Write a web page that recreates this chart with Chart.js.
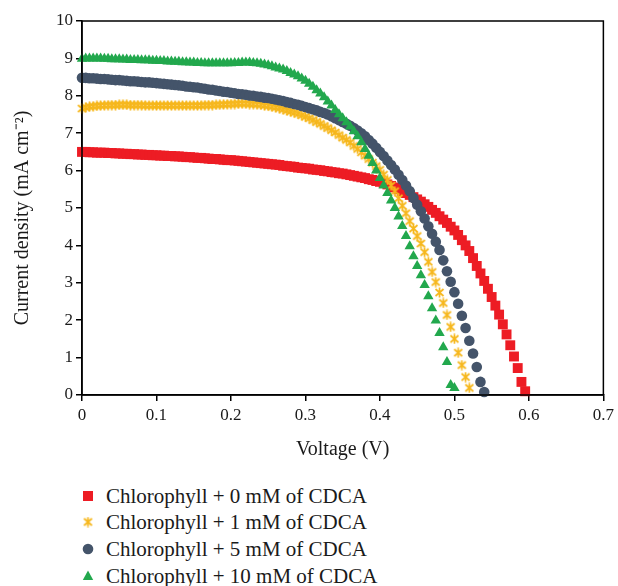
<!DOCTYPE html>
<html>
<head>
<meta charset="utf-8">
<script src="https://cdn.jsdelivr.net/npm/chart.js@4.4.1/dist/chart.umd.min.js"></script>
<style>
  body { margin: 0; background: #fff; }
  #wrap { position: relative; width: 618px; height: 586px; }
  #plot { position: absolute; left: 0; top: 0; width: 618px; height: 470px; }
  .leg { position: absolute; left: 0; font: 21px 'Liberation Serif', serif; color: #1a1a1a; white-space: nowrap; }
  .leg .mk { position: absolute; left: 81px; top: 0; width: 14px; height: 14px; }
  .leg span { position: absolute; left: 106px; top: -6px; line-height: 26px; }
</style>
</head>
<body>
<div id="wrap">
  <div id="plot"><canvas id="ivChart"></canvas></div>
  <div class="leg" style="top:489px"><canvas class="mk" width="14" height="14"></canvas><span>Chlorophyll + 0 mM of CDCA</span></div>
  <div class="leg" style="top:515px"><canvas class="mk" width="14" height="14"></canvas><span>Chlorophyll + 1 mM of CDCA</span></div>
  <div class="leg" style="top:542px"><canvas class="mk" width="14" height="14"></canvas><span>Chlorophyll + 5 mM of CDCA</span></div>
  <div class="leg" style="top:569px"><canvas class="mk" width="14" height="14"></canvas><span>Chlorophyll + 10 mM of CDCA</span></div>
</div>
<script>
// voltage steps (V)
const voltage = [
  0.000, 0.005, 0.010, 0.015, 0.020, 0.025, 0.030, 0.035, 0.040, 0.045,
  0.050, 0.055, 0.060, 0.065, 0.070, 0.075, 0.080, 0.085, 0.090, 0.095,
  0.100, 0.105, 0.110, 0.115, 0.120, 0.125, 0.130, 0.135, 0.140, 0.145,
  0.150, 0.155, 0.160, 0.165, 0.170, 0.175, 0.180, 0.185, 0.190, 0.195,
  0.200, 0.205, 0.210, 0.215, 0.220, 0.225, 0.230, 0.235, 0.240, 0.245,
  0.250, 0.255, 0.260, 0.265, 0.270, 0.275, 0.280, 0.285, 0.290, 0.295,
  0.300, 0.305, 0.310, 0.315, 0.320, 0.325, 0.330, 0.335, 0.340, 0.345,
  0.350, 0.355, 0.360, 0.365, 0.370, 0.375, 0.380, 0.385, 0.390, 0.395,
  0.400, 0.405, 0.410, 0.415, 0.420, 0.425, 0.430, 0.435, 0.440, 0.445,
  0.450, 0.455, 0.460, 0.465, 0.470, 0.475, 0.480, 0.485, 0.490, 0.495,
  0.500, 0.505, 0.510, 0.515, 0.520, 0.525, 0.530, 0.535, 0.540, 0.545,
  0.550, 0.555, 0.560, 0.565, 0.570, 0.575, 0.580, 0.585, 0.590, 0.595
];

// current density (mA cm-2), one value per voltage step
const cdca0 = [
  6.50, 6.50, 6.49, 6.49, 6.48, 6.48, 6.48, 6.47, 6.47, 6.46,
  6.46, 6.45, 6.45, 6.44, 6.44, 6.43, 6.43, 6.42, 6.42, 6.41,
  6.41, 6.40, 6.40, 6.39, 6.39, 6.38, 6.38, 6.37, 6.36, 6.36,
  6.35, 6.34, 6.34, 6.33, 6.32, 6.31, 6.31, 6.30, 6.29, 6.28,
  6.28, 6.27, 6.26, 6.25, 6.24, 6.23, 6.22, 6.21, 6.20, 6.19,
  6.18, 6.17, 6.16, 6.15, 6.13, 6.12, 6.11, 6.10, 6.08, 6.07,
  6.06, 6.05, 6.03, 6.02, 6.01, 5.99, 5.98, 5.96, 5.95, 5.93,
  5.92, 5.90, 5.88, 5.86, 5.84, 5.82, 5.80, 5.77, 5.75, 5.72,
  5.70, 5.67, 5.63, 5.59, 5.55, 5.50, 5.45, 5.40, 5.35, 5.29,
  5.23, 5.17, 5.10, 5.03, 4.95, 4.87, 4.78, 4.69, 4.60, 4.50,
  4.40, 4.28, 4.14, 4.00, 3.85, 3.66, 3.45, 3.25, 3.05, 2.84,
  2.62, 2.39, 2.15, 1.89, 1.62, 1.33, 1.03, 0.72, 0.35, 0.10
];
const cdca1 = [
  7.66, 7.69, 7.71, 7.72, 7.73, 7.74, 7.74, 7.75, 7.75, 7.75,
  7.76, 7.76, 7.76, 7.75, 7.75, 7.75, 7.75, 7.74, 7.74, 7.74,
  7.74, 7.74, 7.74, 7.74, 7.74, 7.74, 7.74, 7.74, 7.74, 7.74,
  7.74, 7.74, 7.74, 7.75, 7.75, 7.75, 7.76, 7.76, 7.77, 7.77,
  7.78, 7.78, 7.79, 7.79, 7.79, 7.78, 7.78, 7.77, 7.76, 7.74,
  7.73, 7.71, 7.69, 7.67, 7.64, 7.61, 7.58, 7.55, 7.52, 7.48,
  7.44, 7.40, 7.35, 7.30, 7.25, 7.19, 7.14, 7.08, 7.02, 6.95,
  6.88, 6.82, 6.75, 6.66, 6.58, 6.49, 6.40, 6.31, 6.21, 6.12,
  6.02, 5.89, 5.75, 5.60, 5.45, 5.26, 5.06, 4.86, 4.65, 4.45,
  4.25, 4.05, 3.82, 3.56, 3.29, 3.02, 2.74, 2.46, 2.14, 1.82,
  1.50, 1.13, 0.80, 0.48, 0.19
];
const cdca5 = [
  8.48, 8.48, 8.47, 8.47, 8.46, 8.45, 8.45, 8.44, 8.43, 8.42,
  8.42, 8.41, 8.40, 8.39, 8.39, 8.38, 8.37, 8.36, 8.36, 8.35,
  8.34, 8.33, 8.32, 8.31, 8.30, 8.29, 8.28, 8.27, 8.25, 8.24,
  8.23, 8.22, 8.20, 8.19, 8.17, 8.16, 8.14, 8.13, 8.11, 8.10,
  8.08, 8.07, 8.05, 8.04, 8.03, 8.01, 8.00, 7.98, 7.97, 7.95,
  7.94, 7.92, 7.90, 7.88, 7.86, 7.83, 7.81, 7.78, 7.76, 7.73,
  7.70, 7.67, 7.64, 7.61, 7.57, 7.54, 7.50, 7.45, 7.40, 7.35,
  7.30, 7.25, 7.20, 7.14, 7.07, 7.00, 6.92, 6.82, 6.72, 6.61,
  6.50, 6.39, 6.27, 6.15, 6.03, 5.89, 5.75, 5.60, 5.45, 5.27,
  5.09, 4.91, 4.72, 4.51, 4.31, 4.10, 3.88, 3.60, 3.31, 3.03,
  2.75, 2.44, 2.12, 1.79, 1.45, 1.11, 0.75, 0.35, 0.08
];
const cdca10 = [
  8.99, 9.00, 9.00, 9.00, 9.00, 9.00, 8.99, 8.99, 8.98, 8.98,
  8.98, 8.97, 8.97, 8.96, 8.96, 8.96, 8.95, 8.95, 8.95, 8.94,
  8.94, 8.93, 8.93, 8.92, 8.92, 8.91, 8.91, 8.90, 8.90, 8.89,
  8.89, 8.88, 8.88, 8.87, 8.87, 8.87, 8.87, 8.87, 8.87, 8.87,
  8.87, 8.88, 8.88, 8.89, 8.89, 8.89, 8.88, 8.87, 8.86, 8.84,
  8.82, 8.79, 8.76, 8.73, 8.70, 8.66, 8.61, 8.57, 8.52, 8.46,
  8.40, 8.32, 8.24, 8.15, 8.06, 7.96, 7.85, 7.74, 7.62, 7.51,
  7.40, 7.29, 7.18, 7.05, 6.92, 6.76, 6.58, 6.40, 6.20, 6.00,
  5.80, 5.60, 5.40, 5.20, 5.00, 4.77, 4.52, 4.25, 3.98, 3.71,
  3.45, 3.20, 2.94, 2.64, 2.32, 1.99, 1.66, 1.28, 0.88, 0.27,
  0.19
];

const xTickLabels = ['0', '0.1', '0.2', '0.3', '0.4', '0.5', '0.6', '0.7'];
const yTickLabels = ['0', '1', '2', '3', '4', '5', '6', '7', '8', '9', '10'];

const RED = '#ED1C24', GOLD = '#F6B71C', SLATE = '#44546A', GREEN = '#22A84D';

// Excel-style asterisk marker (x with a vertical bar)
function starMarker(color) {
  const c = document.createElement('canvas');
  c.width = 11; c.height = 11;
  const g = c.getContext('2d');
  g.strokeStyle = color;
  g.lineWidth = 1.7;
  g.beginPath();
  g.moveTo(1.5, 2); g.lineTo(9.5, 9);
  g.moveTo(9.5, 2); g.lineTo(1.5, 9);
  g.moveTo(5.5, 0.5); g.lineTo(5.5, 10.5);
  g.stroke();
  return c;
}
const star = starMarker(GOLD);

function pts(ys) {
  return ys.map((y, i) => ({ x: voltage[i], y: y }));
}

const frame = {
  id: 'frame',
  afterDraw(chart) {
    const { ctx, chartArea: a } = chart;
    ctx.save();
    ctx.strokeStyle = '#000';
    ctx.lineWidth = 1.5;
    ctx.strokeRect(a.left, a.top, a.right - a.left, a.bottom - a.top);
    ctx.restore();
  }
};

Chart.defaults.font.family = "'Liberation Serif', 'Times New Roman', serif";
Chart.defaults.font.size = 17;
Chart.defaults.color = '#1a1a1a';

const series = [
  { label: 'Chlorophyll + 0 mM of CDCA', data: pts(cdca0), color: RED, style: 'rect', r: 7, order: 4 },
  { label: 'Chlorophyll + 1 mM of CDCA', data: pts(cdca1), color: GOLD, style: star, r: 5, order: 3 },
  { label: 'Chlorophyll + 5 mM of CDCA', data: pts(cdca5), color: SLATE, style: 'circle', r: 5.3, order: 2 },
  { label: 'Chlorophyll + 10 mM of CDCA', data: pts(cdca10), color: GREEN, style: 'triangle', r: 6, order: 1 }
];

const ctx = document.getElementById('ivChart').getContext('2d');
new Chart(ctx, {
  type: 'scatter',
  data: {
    datasets: series.map(s => ({
      label: s.label,
      data: s.data,
      order: s.order,
      showLine: false,
      clip: false,
      pointStyle: s.style,
      pointRadius: s.r,
      pointHoverRadius: s.r,
      pointBackgroundColor: s.color,
      pointBorderColor: s.color,
      pointBorderWidth: 0
    }))
  },
  options: {
    responsive: true,
    maintainAspectRatio: false,
    animation: false,
    layout: { padding: { left: 0, right: 13, top: 21, bottom: 0 } },
    plugins: { legend: { display: false }, tooltip: { enabled: false } },
    scales: {
      x: {
        type: 'linear',
        min: 0, max: 0.7,
        ticks: { stepSize: 0.1, padding: 4, callback: (v, i) => xTickLabels[i] },
        grid: { display: true, drawOnChartArea: false, drawTicks: true, tickLength: 6, color: '#000', lineWidth: 1.5 },
        border: { display: true, color: '#000', width: 1.5 },
        title: { display: true, text: 'Voltage (V)', font: { size: 20 }, padding: { top: 0, bottom: 8 } },
        afterFit: sc => { sc.height = 75; }
      },
      y: {
        type: 'linear',
        min: 0, max: 10,
        ticks: { stepSize: 1, padding: 3, callback: (v, i) => yTickLabels[i] },
        grid: { display: true, drawOnChartArea: false, drawTicks: true, tickLength: 6, color: '#000', lineWidth: 1.5 },
        border: { display: true, color: '#000', width: 1.5 },
        title: { display: true, text: 'Current density (mA cm\u207B\u00B2)    ', font: { size: 20 }, padding: { top: 11, bottom: 0 } },
        afterFit: sc => { sc.width = 82; }
      }
    }
  },
  plugins: [frame]
});

// legend markers
const marks = document.querySelectorAll('.leg .mk');
series.forEach((s, i) => {
  const g = marks[i].getContext('2d');
  g.fillStyle = s.color;
  if (s.style === 'rect') {
    g.fillRect(2, 2, 10, 10);
  } else if (s.style === 'circle') {
    g.beginPath(); g.arc(7, 7, 5.3, 0, Math.PI * 2); g.fill();
  } else if (s.style === 'triangle') {
    g.beginPath(); g.moveTo(7, 1.5); g.lineTo(12.2, 11); g.lineTo(1.8, 11); g.closePath(); g.fill();
  } else {
    g.drawImage(s.style, 1.5, 1.5);
  }
});
</script>
</body>
</html>
